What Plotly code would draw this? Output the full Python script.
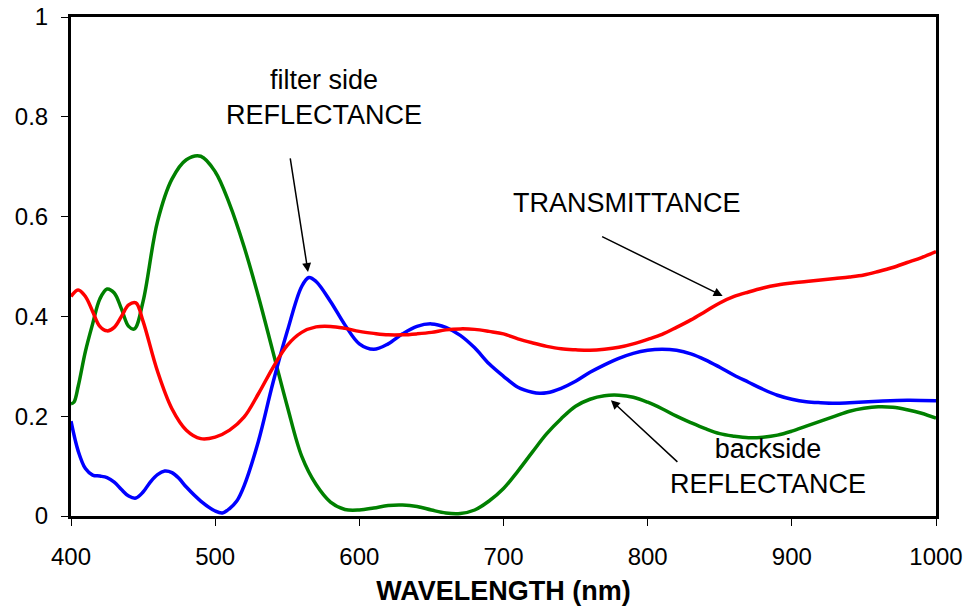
import plotly.graph_objects as go

wl_T = [400, 405, 410, 415, 420, 425, 430, 435, 440, 445, 450, 460, 470, 480, 490, 500, 510, 520, 530, 540,
        550, 560, 570, 580, 590, 600, 610, 620, 630, 640, 650, 660, 670, 680, 690, 700, 710, 720, 730, 740,
        750, 760, 770, 780, 790, 800, 810, 820, 830, 840, 850, 860, 870, 880, 890, 900, 910, 920, 930, 940,
        950, 960, 970, 980, 990, 1000]
transmittance = [0.44, 0.453, 0.44, 0.41, 0.38, 0.371, 0.378, 0.40, 0.423, 0.427, 0.39, 0.29, 0.215, 0.172, 0.155, 0.158, 0.172, 0.198, 0.245, 0.297,
                 0.342, 0.368, 0.379, 0.38, 0.376, 0.37, 0.366, 0.363, 0.363, 0.365, 0.368, 0.373, 0.375, 0.374, 0.37, 0.365, 0.355, 0.347, 0.34, 0.335,
                 0.333, 0.332, 0.334, 0.338, 0.345, 0.354, 0.364, 0.378, 0.393, 0.41, 0.427, 0.44, 0.449, 0.457, 0.463, 0.467, 0.47, 0.473, 0.476, 0.479,
                 0.483, 0.49, 0.498, 0.508, 0.518, 0.53]

wl_F = [400, 405, 410, 415, 420, 425, 430, 435, 440, 445, 450, 455, 460, 465, 470, 475, 480, 490, 500, 505,
        510, 515, 520, 530, 540, 550, 560, 565, 570, 580, 590, 600, 610, 620, 630, 640, 650, 660, 670, 680,
        690, 700, 710, 720, 725, 730, 740, 750, 760, 770, 780, 790, 800, 810, 820, 830, 840, 850, 860, 870,
        880, 890, 900, 910, 920, 930, 940, 960, 980, 1000]
filter_refl = [0.19, 0.13, 0.095, 0.082, 0.08, 0.077, 0.068, 0.053, 0.04, 0.036, 0.048, 0.068, 0.083, 0.09, 0.087, 0.075, 0.058, 0.03, 0.01, 0.006,
               0.015, 0.03, 0.06, 0.15, 0.266, 0.37, 0.46, 0.478, 0.47, 0.43, 0.383, 0.345, 0.334, 0.345, 0.365, 0.38, 0.385, 0.378, 0.362, 0.337,
               0.305, 0.28, 0.258, 0.248, 0.246, 0.247, 0.256, 0.27, 0.288, 0.303, 0.316, 0.326, 0.332, 0.334, 0.332, 0.325, 0.313, 0.298, 0.282, 0.268,
               0.254, 0.242, 0.234, 0.229, 0.227, 0.226, 0.227, 0.23, 0.232, 0.231]

wl_B = [400, 402, 405, 410, 415, 420, 425, 430, 435, 440, 444, 450, 460, 470, 480, 490, 500, 510, 520,
        530, 540, 550, 560, 570, 580, 590, 600, 610, 620, 630, 640, 650, 660, 670, 680, 690, 700, 710, 720,
        730, 740, 750, 760, 770, 780, 790, 800, 810, 820, 830, 840, 850, 860, 870, 880, 890, 900, 910, 920,
        930, 940, 950, 960, 970, 980, 990, 1000]
back_refl = [0.225, 0.228, 0.26, 0.33, 0.385, 0.435, 0.455, 0.447, 0.415, 0.38, 0.375, 0.43, 0.59, 0.675, 0.714, 0.721, 0.69, 0.625, 0.54,
             0.44, 0.33, 0.22, 0.12, 0.063, 0.028, 0.013, 0.012, 0.016, 0.021, 0.022, 0.019, 0.012, 0.006, 0.005, 0.012, 0.03, 0.055, 0.09, 0.128,
             0.165, 0.195, 0.22, 0.234, 0.241, 0.242, 0.238, 0.228, 0.215, 0.2, 0.187, 0.175, 0.165, 0.16, 0.157, 0.158, 0.162, 0.17, 0.18, 0.19,
             0.2, 0.21, 0.216, 0.219, 0.218, 0.213, 0.206, 0.196]

x_ticks = [400, 500, 600, 700, 800, 900, 1000]
y_ticks = [0, 0.2, 0.4, 0.6, 0.8, 1]
y_tick_labels = ["0", "0.2", "0.4", "0.6", "0.8", "1"]

FONT = "Liberation Sans, Arial, sans-serif"

fig = go.Figure()
fig.add_trace(go.Scatter(x=wl_B, y=back_refl, mode="lines", line=dict(color="#008000", width=3.5, shape="spline", smoothing=1.0),
                         name="backside REFLECTANCE"))
fig.add_trace(go.Scatter(x=wl_F, y=filter_refl, mode="lines", line=dict(color="#0000FF", width=3.5, shape="spline", smoothing=1.0),
                         name="filter side REFLECTANCE"))
fig.add_trace(go.Scatter(x=wl_T, y=transmittance, mode="lines", line=dict(color="#FF0000", width=3.5, shape="spline", smoothing=1.0),
                         name="TRANSMITTANCE"))

ann_font = dict(family=FONT, size=27, color="black")
# arrows
for (x, y, ax, ay) in [(564.4, 0.489, -18, -115), (852, 0.441, -122, -60), (774.5, 0.232, 68, 63)]:
    fig.add_annotation(x=x, y=y, ax=ax, ay=ay, xref="x", yref="y", axref="pixel", ayref="pixel",
                       text="", showarrow=True, arrowhead=2, arrowsize=1.2, arrowwidth=1.5, arrowcolor="black")
# labels
fig.add_annotation(x=(324 - 71) / 865 * 600 + 400, y=(516 - 97) / 499, text="filter side<br>REFLECTANCE",
                   showarrow=False, font=ann_font, align="center", xanchor="center", yanchor="middle")
fig.add_annotation(x=(627 - 71) / 865 * 600 + 400, y=(516 - 203) / 499, text="TRANSMITTANCE",
                   showarrow=False, font=ann_font, align="center", xanchor="center", yanchor="middle")
fig.add_annotation(x=(768 - 71) / 865 * 600 + 400, y=(516 - 466) / 499, text="backside<br>REFLECTANCE",
                   showarrow=False, font=ann_font, align="center", xanchor="center", yanchor="middle")

fig.update_layout(
    width=972, height=606,
    margin=dict(l=71, r=36, t=17, b=90, autoexpand=False),
    paper_bgcolor="white", plot_bgcolor="white",
    showlegend=False,
    font=dict(family=FONT, size=24, color="black"),
    xaxis=dict(range=[400, 1000], tickvals=x_ticks, ticktext=[str(v) for v in x_ticks],
               showgrid=False, zeroline=False, showline=True, linecolor="black", linewidth=3, mirror=True,
               ticks="outside", ticklen=7, tickwidth=1, tickcolor="black", automargin=False,
               tickfont=dict(family=FONT, size=24), ticklabelstandoff=10,
               title=dict(text="<b>WAVELENGTH (nm)</b>", font=dict(family=FONT, size=27), standoff=14)),
    yaxis=dict(range=[0, 1], tickvals=y_ticks, ticktext=y_tick_labels,
               showgrid=False, zeroline=False, showline=True, linecolor="black", linewidth=3, mirror=True,
               ticks="outside", ticklen=7, tickwidth=1, tickcolor="black", automargin=False,
               tickfont=dict(family=FONT, size=24), ticklabelstandoff=8),
)

fig.write_html("out.html")
